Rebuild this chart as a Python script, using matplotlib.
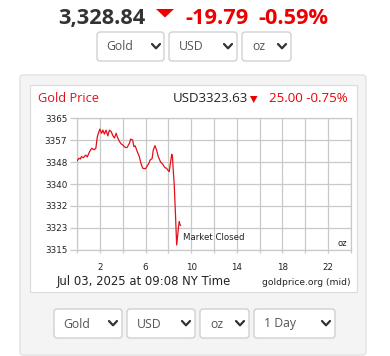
import matplotlib
matplotlib.use("Agg")
import matplotlib.pyplot as plt
from matplotlib.patches import FancyBboxPatch, Polygon, Rectangle
from matplotlib.lines import Line2D

# ---------------- data ----------------
hours = [0.0, 0.17, 0.3, 0.38, 0.55, 0.76, 0.9, 1.1, 1.29, 1.5, 1.65, 1.78, 2.0, 2.15,
         2.27, 2.4, 2.55, 2.7, 2.84, 3.0, 3.14, 3.28, 3.43, 3.57, 3.72, 3.86, 4.03, 4.15,
         4.3, 4.4, 4.6, 4.7, 4.87, 4.99, 5.1, 5.28, 5.46, 5.6, 5.75, 6.0, 6.1, 6.3, 6.4,
         6.58, 6.68, 6.83, 6.97, 7.12, 7.33, 7.5, 7.7, 7.85, 7.95, 8.08, 8.2, 8.3, 8.36,
         8.43, 8.52, 8.62, 8.73, 8.82, 8.9, 8.96, 9.02, 9.08]
prices = [3348.8, 3349.8, 3349.5, 3350.4, 3350.0, 3351.0, 3350.3, 3352.3, 3353.6, 3353.0,
          3353.6, 3358.0, 3360.9, 3359.3, 3360.5, 3359.0, 3360.5, 3358.3, 3360.5, 3359.9,
          3358.4, 3357.5, 3359.3, 3357.5, 3356.2, 3355.3, 3354.8, 3354.2, 3353.8, 3354.0,
          3355.6, 3357.1, 3356.7, 3354.2, 3354.5, 3352.3, 3350.4, 3347.9, 3346.0, 3345.8,
          3346.5, 3347.9, 3349.1, 3349.7, 3352.9, 3354.6, 3352.9, 3350.4, 3348.3, 3347.6,
          3346.2, 3346.0, 3345.3, 3344.7, 3348.5, 3351.3, 3350.4, 3345.3, 3339.6, 3329.0,
          3316.8, 3320.5, 3324.0, 3325.7, 3324.5, 3324.3]

y_ticks = [3315, 3315 + 50/6, 3315 + 100/6, 3340, 3315 + 200/6, 3315 + 250/6, 3365]
y_tick_labels = ["3315", "3323", "3332", "3340", "3348", "3357", "3365"]
x_ticks = list(range(0, 25, 2))
x_tick_labels = ["" if (t - 2) % 4 else str(t) for t in x_ticks]

header_price = "3,328.84"
header_change = "-19.79"
header_pct = "-0.59%"
chart_title = "Gold Price"
chart_price = "USD3323.63"
chart_change = "25.00 -0.75%"
timestamp = "Jul 03, 2025 at 09:08 NY Time"
source = "goldprice.org (mid)"
top_selects = ["Gold", "USD", "oz"]
bottom_selects = ["Gold", "USD", "oz", "1 Day"]

W, H = 390, 356
RED = "#ee0000"
LINE_RED = "#e3101a"
GRID = "#c9c9c9"

fig = plt.figure(figsize=(W / 100, H / 100), dpi=100)
fig.patch.set_facecolor("white")

bg = fig.add_axes([0, 0, 1, 1])
bg.set_xlim(0, W)
bg.set_ylim(H, 0)
bg.axis("off")
bg.set_zorder(0)

OS = "Open Sans"

# header
bg.text(58, 24, header_price, fontsize=15.7, fontweight="bold", color="#333333",
        family=OS, ha="left", va="baseline")
bg.add_patch(Polygon([(156, 9), (174, 9), (165, 17.5)], closed=True, color=RED, lw=0))
bg.text(185, 24, header_change, fontsize=15.7, fontweight="bold", color=RED,
        family=OS, ha="left", va="baseline")
bg.text(258, 24, header_pct, fontsize=15.7, fontweight="bold", color=RED,
        family=OS, ha="left", va="baseline")


def select_box(x0, x1, y0, y1, label, text_x, chev_x):
    bg.add_patch(FancyBboxPatch((x0, y0), x1 - x0, y1 - y0,
                                boxstyle="round,pad=0,rounding_size=3",
                                fc="white", ec="#cccccc", lw=0.9))
    yc = (y0 + y1) / 2
    bg.text(text_x, yc + 0.5, label, fontsize=8.8, color="#555555", family=OS,
            ha="left", va="center")
    bg.add_line(Line2D([chev_x - 4, chev_x, chev_x + 4], [yc - 2.5, yc + 1.8, yc - 2.5],
                       color="#333333", lw=1.6, solid_capstyle="round",
                       solid_joinstyle="round"))


top_boxes = [(97, 164, 106, 156), (169, 237, 179, 228), (242, 291, 252, 282)]
for (x0, x1, tx, cx), lab in zip(top_boxes, top_selects):
    select_box(x0, x1, 32, 61, lab, tx, cx)

# panel
bg.add_patch(FancyBboxPatch((20, 75), 346, 280, boxstyle="round,pad=0,rounding_size=3",
                            fc="#f4f4f4", ec="#e2e2e2", lw=1.0))
bg.add_patch(Rectangle((30, 85), 327, 207, fc="white", ec="#dddddd", lw=0.9))

bottom_boxes = [(54, 122, 63, 113), (127, 195, 137, 186), (200, 249, 210, 240),
                (254, 335, 264, 326)]
for (x0, x1, tx, cx), lab in zip(bottom_boxes, bottom_selects):
    select_box(x0, x1, 309, 338, lab, tx, cx)

# chart title row
bg.text(38, 101.5, chart_title, fontsize=9.2, color="#e0101a", family=OS,
        ha="left", va="baseline")
bg.text(248, 102, chart_price, fontsize=9.5, color="#222222", family=OS,
        ha="right", va="baseline")
bg.add_patch(Polygon([(250, 96), (257.5, 96), (253.75, 103)], closed=True,
                     color=RED, lw=0))
bg.text(348, 102, chart_change, fontsize=9.5, color=RED, family=OS,
        ha="right", va="baseline")

# footer texts
bg.text(57, 285, timestamp, fontsize=8.35, color="#222222", family="DejaVu Sans",
        ha="left", va="baseline")
bg.text(351, 285, source, fontsize=6.6, color="#222222", family="DejaVu Sans",
        ha="right", va="baseline")

# chart axes
left, right = 77, 351
top, bottom = 118.3, 249.7
ax = fig.add_axes([left / W, 1 - bottom / H, (right - left) / W, (bottom - top) / H])
ax.set_zorder(2)
ax.patch.set_alpha(0)
ax.plot(hours, prices, color=LINE_RED, lw=0.9, zorder=3)
ax.set_xlim(0, 24)
ax.set_ylim(3315, 3365)
ax.set_xticks(x_ticks)
ax.set_xticklabels(x_tick_labels)
ax.set_yticks(y_ticks)
ax.set_yticklabels(y_tick_labels)
ax.grid(True, color=GRID, lw=0.9)
for s in ax.spines.values():
    s.set_color(GRID)
    s.set_linewidth(0.9)
ax.tick_params(axis="y", length=5, width=0.9, color=GRID, pad=2, labelsize=6.3,
               labelcolor="#222222")
ax.tick_params(axis="x", length=2.5, width=0.9, color=GRID, pad=7, labelsize=6.3,
               labelcolor="#222222")
ax.text(9.3, 3319.8, "Market Closed", fontsize=6.2, color="#222222", va="center",
        ha="left")
ax.text(0.985, 0.05, "oz", transform=ax.transAxes, fontsize=6, color="#222222",
        ha="right", va="center")

fig.savefig("out.png", dpi=100)
